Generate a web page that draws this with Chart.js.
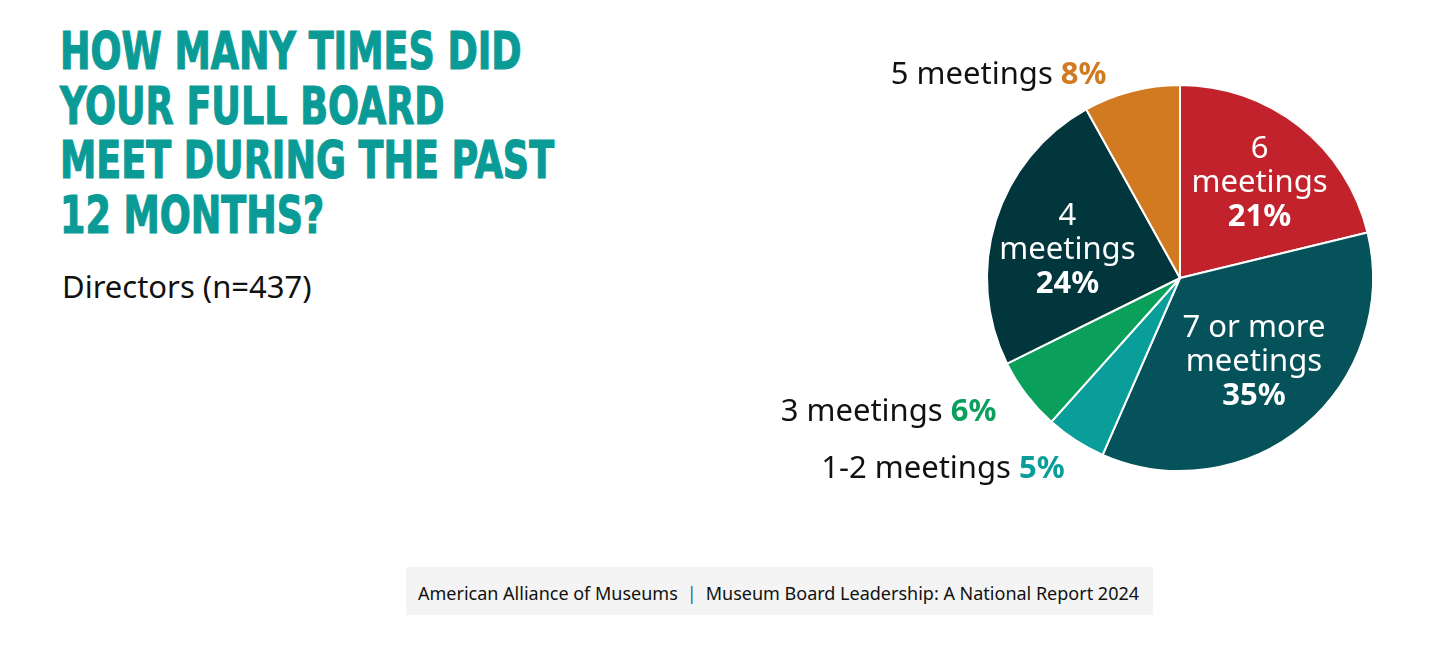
<!DOCTYPE html>
<html>
<head>
<meta charset="utf-8">
<script src="https://cdn.jsdelivr.net/npm/chart.js@4.4.1/dist/chart.umd.min.js"></script>
<style>
    body { margin: 0; width: 1456px; height: 646px; background: #fff; overflow: hidden; position: relative; font-family: "Noto Sans", sans-serif; }
    .title { position: absolute; left: 60px; top: 24px; color: #0b9b96; -webkit-text-stroke: 1.2px #0b9b96; font-family: "Liberation Sans Narrow", "DejaVu Sans Condensed", sans-serif; font-weight: bold; font-size: 52px; line-height: 54.5px; transform: scaleX(0.78); transform-origin: left top; white-space: nowrap; }
    .subtitle { position: absolute; left: 62px; top: 265px; font-size: 31px; color: #111; }
    .footer { position: absolute; left: 406px; top: 567px; width: 747px; height: 48px; background: #f4f4f4; font-size: 18px; line-height: 52px; color: #111; text-indent: 12px; white-space: nowrap; }
    .footer .sep { color: #1d6f9a; margin: 0 9px; }
    #wrap { position: absolute; left: 700px; top: 0; width: 756px; height: 556px; }
</style>
</head>
<body>
<div class="title">HOW MANY TIMES DID<br>YOUR FULL BOARD<br>MEET DURING THE PAST<br>12 MONTHS?</div>
<div class="subtitle">Directors (n=437)</div>
<div class="footer">American Alliance of Museums<span class="sep">|</span>Museum Board Leadership: A National Report 2024</div>
<div id="wrap"><canvas id="pieChart"></canvas></div>
<script>
const categories = ['6 meetings', '7 or more meetings', '1-2 meetings', '3 meetings', '4 meetings', '5 meetings'];
const values = [21, 35, 5, 6, 24, 8];
const sliceColors = ['#c1222b', '#06525a', '#0a9e9a', '#0a9f5b', '#00363c', '#d27a21'];
const labelLines = [['6', 'meetings'], ['7 or more', 'meetings'], ['1-2 meetings'], ['3 meetings'], ['4', 'meetings'], ['5 meetings']];
const inside = [true, true, false, false, true, false];

// where the text goes relative to the slice (radius factor + nudge, or offset from the rim for outside ones)
const insideFactor = [0.65, 0.58, 0, 0, 0.6, 0];
const insideNudge = [[2, 4], [2, -2], null, null, [-2, 7], null];
const outsideOffset = [null, null, [-11, 29], [-30, 17], null, [-25, -16]];

const sliceLabels = {
    id: 'sliceLabels',
    afterDatasetsDraw(chart) {
        const ctx = chart.ctx;
        const arcs = chart.getDatasetMeta(0).data;
        ctx.save();
        ctx.textBaseline = 'middle';
        arcs.forEach((arc, i) => {
            const mid = (arc.startAngle + arc.endAngle) / 2;
            const pct = values[i] + '%';
            if (inside[i]) {
                const r = arc.outerRadius * insideFactor[i];
                const cx = arc.x + Math.cos(mid) * r + insideNudge[i][0];
                const cy = arc.y + Math.sin(mid) * r + insideNudge[i][1];
                const lines = labelLines[i].concat([pct]);
                const lh = 34;
                let y = cy - (lines.length - 1) * lh / 2;
                ctx.fillStyle = '#fff';
                ctx.textAlign = 'center';
                lines.forEach((t, k) => {
                    ctx.font = (k === lines.length - 1 ? 'bold ' : '') + '31px "Noto Sans"';
                    ctx.fillText(t, cx, y);
                    y += lh;
                });
            } else {
                const off = outsideOffset[i];
                const ex = arc.x + Math.cos(mid) * arc.outerRadius + off[0];
                const ey = arc.y + Math.sin(mid) * arc.outerRadius + off[1];
                ctx.textAlign = 'right';
                ctx.font = 'bold 31px "Noto Sans"';
                ctx.fillStyle = sliceColors[i];
                ctx.fillText(pct, ex, ey);
                const w = ctx.measureText(pct).width;
                ctx.font = '31px "Noto Sans"';
                ctx.fillStyle = '#111';
                ctx.fillText(labelLines[i][0] + ' ', ex - w, ey);
            }
        });
        ctx.restore();
    }
};

new Chart(document.getElementById('pieChart'), {
    type: 'pie',
    data: {
        labels: categories,
        datasets: [{
            data: values,
            backgroundColor: sliceColors,
            borderColor: '#fff',
            borderWidth: 2
        }]
    },
    options: {
        responsive: true,
        maintainAspectRatio: false,
        animation: false,
        layout: { padding: { top: 84, bottom: 84, left: 286, right: 82 } },
        plugins: {
            legend: { display: false },
            tooltip: { enabled: false }
        }
    },
    plugins: [sliceLabels]
});
</script>
</body>
</html>
